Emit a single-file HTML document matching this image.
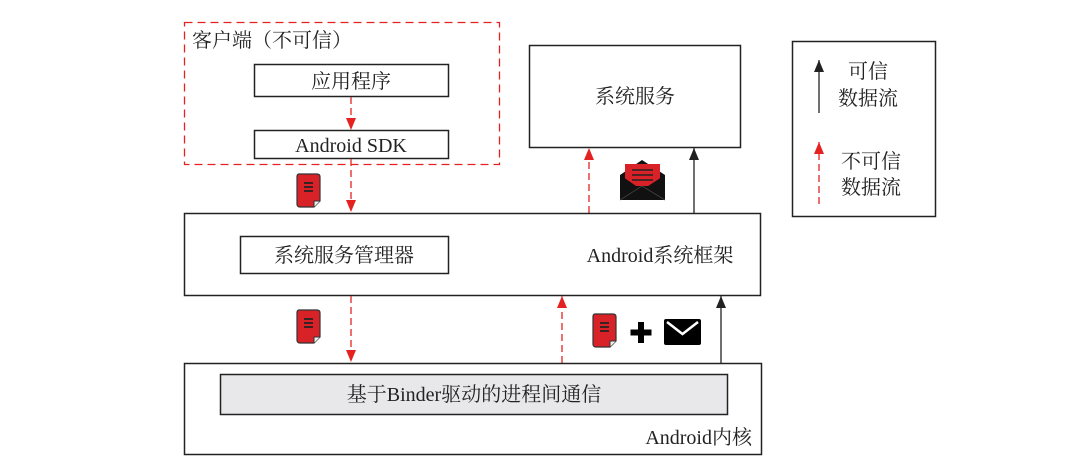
<!DOCTYPE html>
<html><head><meta charset="utf-8"><style>
html,body{margin:0;padding:0;background:#fff;}
svg{display:block;}
text{font-family:"Liberation Serif","Noto Serif CJK SC",serif;fill:#222;}
</style></head><body>
<svg width="1080" height="471" viewBox="0 0 1080 471" xmlns="http://www.w3.org/2000/svg">
<defs>
<marker id="ar" markerWidth="12" markerHeight="10" refX="12" refY="5" orient="auto" markerUnits="userSpaceOnUse" viewBox="0 0 12 10"><path d="M0,0 L12,5 L0,10 Z" fill="#e52222"/></marker>
<marker id="ab" markerWidth="12" markerHeight="10" refX="12" refY="5" orient="auto" markerUnits="userSpaceOnUse" viewBox="0 0 12 10"><path d="M0,0 L12,5 L0,10 Z" fill="#222"/></marker>
<g id="doc">
<path d="M2,0 H20 Q23,0 23,3 V27 L17,33 H3 Q0,33 0,30 V3 Q0,0 2,0 Z" fill="#d92128" stroke="#333" stroke-width="1.2"/>
<path d="M23,27 H17 V33" fill="#eee" stroke="#333" stroke-width="1"/>
<path d="M7,9 H16 M7,13 H16 M7,17 H16" stroke="#222" stroke-width="1.8"/>
</g>
</defs>

<rect x="184.5" y="22.5" width="315" height="142" fill="none" stroke="#e52222" stroke-width="1.3" stroke-dasharray="8,5"/>
<text x="192" y="47" font-size="20">客户端（不可信）</text>
<rect x="254.5" y="64.5" width="194" height="32" fill="#fff" stroke="#222" stroke-width="1.5"/>
<text x="351" y="88" font-size="20" text-anchor="middle">应用程序</text>
<rect x="254.5" y="130.5" width="194" height="28" fill="#fff" stroke="#222" stroke-width="1.5"/>
<text x="351" y="152" font-size="20" text-anchor="middle">Android SDK</text>
<line x1="351" y1="97" x2="351" y2="130" stroke="#e52222" stroke-width="1.3" stroke-dasharray="7,4" marker-end="url(#ar)"/>
<line x1="351" y1="159" x2="351" y2="212" stroke="#e52222" stroke-width="1.3" stroke-dasharray="7,4" marker-end="url(#ar)"/>
<use href="#doc" x="297" y="174"/>

<rect x="529.5" y="45.5" width="211" height="102" fill="#fff" stroke="#222" stroke-width="1.5"/>
<text x="635" y="103" font-size="20" text-anchor="middle">系统服务</text>
<line x1="589" y1="213" x2="589" y2="148" stroke="#e52222" stroke-width="1.3" stroke-dasharray="7,4" marker-end="url(#ar)"/>
<line x1="694" y1="213" x2="694" y2="148" stroke="#222" stroke-width="1.3" marker-end="url(#ab)"/>
<g>
<path d="M620,175 L642,160 L665,175 V200 H620 Z" fill="#111"/>
<rect x="625" y="164" width="35" height="22" fill="#d92128"/>
<path d="M632,170 H653 M632,175 H653 M632,180 H653" stroke="#222" stroke-width="1.5"/>
<path d="M620,175 L642,190 L665,175 V200 H620 Z" fill="#111"/>
<path d="M620,200 L642,186 L665,200" fill="none" stroke="#444" stroke-width="0.8"/>
</g>

<rect x="184.5" y="213.5" width="576" height="82" fill="#fff" stroke="#222" stroke-width="1.5"/>
<rect x="240.5" y="236.5" width="208" height="37" fill="#fff" stroke="#222" stroke-width="1.5"/>
<text x="344" y="262" font-size="20" text-anchor="middle">系统服务管理器</text>
<text x="660" y="262" font-size="20" text-anchor="middle">Android系统框架</text>

<line x1="351" y1="296" x2="351" y2="362" stroke="#e52222" stroke-width="1.3" stroke-dasharray="7,4" marker-end="url(#ar)"/>
<line x1="562" y1="363" x2="562" y2="296" stroke="#e52222" stroke-width="1.3" stroke-dasharray="7,4" marker-end="url(#ar)"/>
<line x1="721" y1="363" x2="721" y2="296" stroke="#222" stroke-width="1.3" marker-end="url(#ab)"/>
<use href="#doc" x="297" y="310"/>
<use href="#doc" x="593" y="314"/>
<path d="M641,322 V343 M630.5,332.5 H651.5" stroke="#000" stroke-width="6"/>
<rect x="664" y="319" width="37" height="26" rx="2" fill="#000"/>
<path d="M667,322 L682.5,334 L698,322" fill="none" stroke="#fff" stroke-width="2.5"/>

<rect x="184.5" y="363.5" width="577" height="91" fill="#fff" stroke="#222" stroke-width="1.5"/>
<rect x="220.5" y="374.5" width="507" height="40" fill="#e8e8ea" stroke="#222" stroke-width="1.5"/>
<text x="474" y="401" font-size="20" text-anchor="middle">基于Binder驱动的进程间通信</text>
<text x="752" y="444" font-size="20" text-anchor="end">Android内核</text>

<rect x="792.5" y="41.5" width="143" height="175" fill="#fff" stroke="#222" stroke-width="1.5"/>
<line x1="819" y1="113" x2="819" y2="60" stroke="#222" stroke-width="1.3" marker-end="url(#ab)"/>
<line x1="819" y1="204" x2="819" y2="142" stroke="#e52222" stroke-width="1.3" stroke-dasharray="7,4" marker-end="url(#ar)"/>
<text x="868" y="78" font-size="20" text-anchor="middle">可信</text>
<text x="868" y="105" font-size="20" text-anchor="middle">数据流</text>
<text x="871" y="168" font-size="20" text-anchor="middle">不可信</text>
<text x="871" y="194" font-size="20" text-anchor="middle">数据流</text>
</svg>
</body></html>
